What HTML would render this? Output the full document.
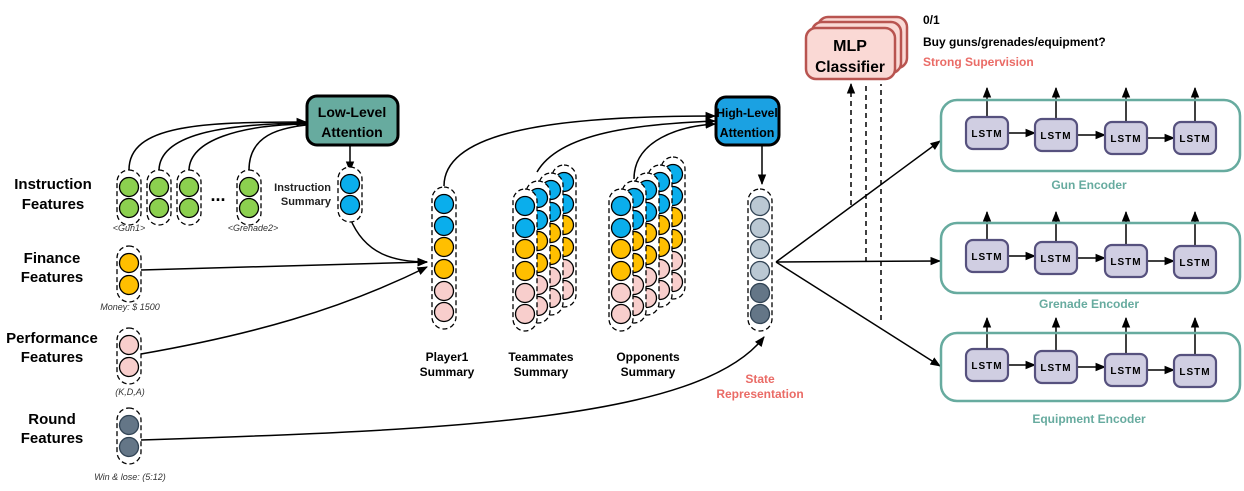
<!DOCTYPE html>
<html><head><meta charset="utf-8"><style>
html,body{margin:0;padding:0;background:#fff;}
svg{display:block;font-family:"Liberation Sans",Arial,sans-serif;}
.b{font-weight:bold;}
</style></head><body>
<svg id="d" width="1244" height="491" viewBox="0 0 1244 491">
<defs>
<marker id="ah" viewBox="0 0 10 10" refX="9" refY="5" markerWidth="7" markerHeight="7" orient="auto-start-reverse"><path d="M0,1 L10,5 L0,9 z" fill="#000"/></marker>
</defs>
<g id="links" fill="none" stroke="#000" stroke-width="1.5"></g>
<g id="nodes"></g>
</svg>
<script>
const NS='http://www.w3.org/2000/svg';
const svg=document.getElementById('d');
const links=document.getElementById('links');
const nodes=document.getElementById('nodes');
function mk(tag,attrs,parent){const e=document.createElementNS(NS,tag);for(const k in attrs)e.setAttribute(k,attrs[k]);(parent||nodes).appendChild(e);return e;}
function txt(x,y,s,size,opts){const t=mk('text',Object.assign({x:x,y:y,'font-size':size,'text-anchor':'middle',fill:'#000'},opts||{}));t.textContent=s;return t;}
function path(d,arrow,dash,name){const p=mk('path',{d:d},links);if(arrow)p.setAttribute('marker-end','url(#ah)');if(dash)p.setAttribute('stroke-dasharray','5,4');

return p;}
const C={g:'#8CD04F',b:'#0AAEEC',o:'#FFBF00',p:'#F8CECC',d:'#647687',l:'#BAC8D3'};
function circ(x,y,c){const e=mk('circle',{cx:x,cy:y,r:9.5,fill:C[c],stroke:(c==='d'||c==='l')?'#314354':'#000','stroke-width':1.3});

return e;}
function dbox(x,y,w,h,name){const e=mk('rect',{x:x,y:y,width:w,height:h,rx:12,fill:'#fff',stroke:'#000','stroke-width':1.3,'stroke-dasharray':'5,3'});

return e;}
function col(x,ys,cols,name){dbox(x-12,ys[0]-17,24,ys[ys.length-1]-ys[0]+34,name);ys.forEach((y,i)=>circ(x,y,cols[i]));}

path('M129,170 C129,125 200,122 306,122',true,false,'link-gun1');
path('M159,170 C160,135 220,124 306,123',false,false,'link-instr2');
path('M189,170 C190,140 240,125 306,124',false,false,'link-instr3');
path('M249,170 C249,135 280,128 306,125',false,false,'link-grenade2');
path('M350,145 L350,171',true,false,'low-attn-out');
path('M350,218 C365,255 395,262 427,262',true,false,'instr-to-player');
path('M141,270 L427,262',true,false,'finance-to-player');
path('M141,354 C250,335 340,310 427,267',true,false,'performance-to-player');
path('M141,440 C450,430 700,420 764,337',true,false,'round-to-state');
path('M444,186 C444,130 560,116 715,116',true,false,'player-to-high');
path('M537,172 C560,132 640,124 715,121',true,false,'team-to-high');
path('M634,179 C634,140 680,126 715,124',true,false,'opp-to-high');
path('M762,146 L762,184',true,false,'high-attn-out');
path('M776,262 L940,141',true,false,'state-to-gun');
path('M776,262 L940,261',true,false,'state-to-grenade');
path('M776,262 L940,366',true,false,'state-to-equipment');
path('M851,205 L851,84',true,true,'dashed-to-mlp-1');
path('M866,262 L866,84',false,true,'dashed-to-mlp-2');
path('M881,320 L881,84',false,true,'dashed-to-mlp-3');

[129,159,189].forEach((x,i)=>col(x,[187,208],['g','g'],'instruction-column'));
col(249,[187,208],['g','g'],'instruction-column-grenade2');
txt(218,201,'...',18,{class:'b'});
txt(129,231,'<Gun1>',9,{'font-style':'italic',fill:'#333'});
txt(253,231,'<Grenade2>',9,{'font-style':'italic',fill:'#333'});
col(350,[184,205],['b','b'],'instruction-summary');
txt(331,191,'Instruction',11,{'text-anchor':'end',class:'b',fill:'#222'});
txt(331,205,'Summary',11,{'text-anchor':'end',class:'b',fill:'#222'});

txt(53,189,'Instruction',15,{class:'b'});txt(53,209,'Features',15,{class:'b'});
txt(52,263,'Finance',15,{class:'b'});txt(52,282,'Features',15,{class:'b'});
txt(52,343,'Performance',15,{class:'b'});txt(52,362,'Features',15,{class:'b'});
txt(52,424,'Round',15,{class:'b'});txt(52,443,'Features',15,{class:'b'});
col(129,[263,285],['o','o'],'finance-features');
txt(130,310,'Money: $ 1500',9,{'font-style':'italic',fill:'#333'});
col(129,[345,367],['p','p'],'performance-features');
txt(130,395,'(K,D,A)',9,{'font-style':'italic',fill:'#333'});
col(129,[425,447],['d','d'],'round-features');
txt(130,480,'Win & lose: (5:12)',9,{'font-style':'italic',fill:'#333'});

let r=mk('rect',{x:307,y:96,width:91,height:49,rx:10,fill:'#67AB9F',stroke:'#000','stroke-width':3});


txt(352,117,'Low-Level',14,{class:'b'});txt(352,137,'Attention',14,{class:'b'});

const ys=[204,226,247,269,291,312];
const pc=['b','b','o','o','p','p'];
col(444,ys,pc,'player1-summary');
txt(447,361,'Player1',12,{class:'b'});txt(447,376,'Summary',12,{class:'b'});

function stack(x0,n,name){for(let k=n;k>=0;k--){col(x0+k*13,ys.map(y=>y+2-k*8),pc,name);}}
stack(525,3,'teammates-summary');
txt(541,361,'Teammates',12,{class:'b'});txt(541,376,'Summary',12,{class:'b'});
stack(621,4,'opponents-summary');
txt(648,361,'Opponents',12,{class:'b'});txt(648,376,'Summary',12,{class:'b'});

r=mk('rect',{x:716,y:97,width:63,height:48,rx:10,fill:'#1BA1E2',stroke:'#000','stroke-width':3});


txt(747,117,'High-Level',12,{class:'b'});txt(747,137,'Attention',12.5,{class:'b'});

col(760,[206,228,249,271,293,314],['l','l','l','l','d','d'],'state-representation');
txt(760,383,'State',12,{class:'b',fill:'#EA6B66'});txt(760,398,'Representation',12,{class:'b',fill:'#EA6B66'});

[[818,17],[812,22],[806,28]].forEach(([x,y],i)=>{const e=mk('rect',{x:x,y:y,width:89,height:51,rx:10,fill:'#FAD9D5',stroke:'#B85450','stroke-width':2.5});

});
txt(850,51,'MLP',16,{class:'b'});txt(850,72,'Classifier',15.5,{class:'b'});
txt(923,24,'0/1',12,{'text-anchor':'start',class:'b'});
txt(923,46,'Buy guns/grenades/equipment?',12,{'text-anchor':'start',class:'b'});
txt(923,66,'Strong Supervision',12,{'text-anchor':'start',class:'b',fill:'#EA6B66'});

const encs=[{y:100,h:71,cy:[133,135,138,138],top:88,label:'Gun Encoder',ly:189,name:'gun-encoder'},
{y:223,h:70,cy:[256,258,261,262],top:212,label:'Grenade Encoder',ly:308,name:'grenade-encoder'},
{y:333,h:68,cy:[365,367,370,371],top:318,label:'Equipment Encoder',ly:423,name:'equipment-encoder'}];
const lx=[987,1056,1126,1195];
encs.forEach(E=>{
 const b=mk('rect',{x:941,y:E.y,width:299,height:E.h,rx:16,fill:'none',stroke:'#67AB9F','stroke-width':2.5});
 
 
 lx.forEach((x,i)=>{
  const cy=E.cy[i];
  path(`M${x},${cy-17} L${x},${E.top}`,true,false,'lstm-output');
  if(i<3)path(`M${x+21},${cy} L${lx[i+1]-21},${cy}`,true,false,'lstm-link');
  const l=mk('rect',{x:x-21,y:cy-16,width:42,height:32,rx:7,fill:'#D0CEE2',stroke:'#56517E','stroke-width':2.2});
  
  
  txt(x,cy+4,'LSTM',10,{class:'b','letter-spacing':'1'});
 });
 txt(1089,E.ly,E.label,12,{class:'b',fill:'#67AB9F'});
});
svg.insertBefore(links,nodes);
</script>
</body></html>
